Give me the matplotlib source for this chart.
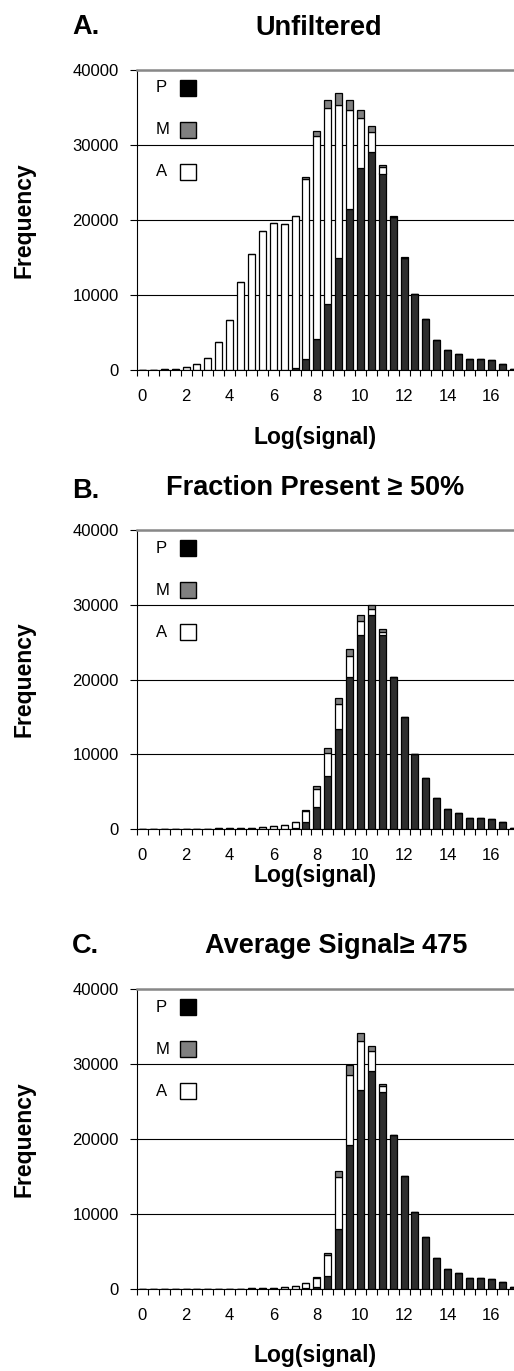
import matplotlib
matplotlib.use('Agg')
import matplotlib.pyplot as plt
from matplotlib.patches import Rectangle
import numpy as np

plt.rcParams['font.family'] = ['Liberation Sans', 'DejaVu Sans']

# ---------------- data ----------------
log_signal = [0.0, 0.5, 1.0, 1.5, 2.0, 2.5, 3.0, 3.5, 4.0, 4.5, 5.0, 5.5, 6.0, 6.5,
              7.0, 7.5, 8.0, 8.5, 9.0, 9.5, 10.0, 10.5, 11.0, 11.5, 12.0, 12.5,
              13.0, 13.5, 14.0, 14.5, 15.0, 15.5, 16.0, 16.5, 17.0]

# Panel A: Unfiltered
a_present = [0, 0, 0, 0, 50, 0, 0, 0, 0, 0, 0, 0, 0, 0, 300, 1500, 4200, 8800, 15000,
             21500, 26900, 29100, 26200, 20400, 15000, 10200, 6800, 4000, 2700, 2100,
             1500, 1500, 1300, 850, 200]
a_marginal = [0, 0, 0, 0, 0, 0, 0, 0, 0, 0, 0, 0, 0, 0, 0, 300, 700, 1100, 1500, 1300,
              1100, 750, 300, 150, 100, 0, 0, 0, 0, 0, 0, 0, 0, 0, 0]
a_absent = [0, 50, 100, 200, 300, 850, 1650, 3700, 6700, 11700, 15500, 18600, 19600,
            19500, 20300, 24000, 27000, 26100, 20400, 13200, 6700, 2650, 900, 50, 0,
            0, 0, 0, 0, 0, 0, 0, 0, 0, 0]

# Panel B: Fraction Present >= 50%
b_present = [0, 0, 0, 0, 0, 0, 0, 0, 0, 0, 0, 0, 0, 0, 100, 900, 3000, 7050, 13400,
             20300, 25900, 28600, 26000, 20300, 15000, 10100, 6800, 4100, 2700, 2100,
             1500, 1500, 1300, 900, 200]
b_marginal = [0, 0, 0, 0, 0, 0, 0, 0, 0, 0, 0, 0, 0, 0, 0, 200, 350, 600, 800, 1000,
              800, 600, 400, 100, 0, 0, 0, 0, 0, 0, 0, 0, 0, 0, 0]
b_absent = [0, 0, 0, 0, 0, 0, 0, 80, 100, 130, 200, 300, 450, 600, 900, 1500, 2350,
            3150, 3300, 2800, 1900, 800, 300, 0, 0, 0, 0, 0, 0, 0, 0, 0, 0, 0, 0]

# Panel C: Average Signal >= 475
c_present = [0, 0, 0, 0, 0, 0, 0, 0, 0, 0, 0, 0, 0, 0, 0, 100, 250, 1800, 7950, 19200,
             26600, 29100, 26300, 20600, 15100, 10300, 6900, 4100, 2700, 2150, 1500,
             1500, 1300, 870, 300]
c_marginal = [0, 0, 0, 0, 0, 0, 0, 0, 0, 0, 0, 0, 0, 0, 0, 0, 100, 200, 700, 1350,
              1000, 650, 300, 0, 0, 0, 0, 0, 0, 0, 0, 0, 0, 0, 0]
c_absent = [0, 0, 0, 0, 0, 0, 0, 0, 30, 50, 80, 120, 180, 280, 450, 650, 1250, 2800,
            7050, 9350, 6500, 2650, 800, 0, 0, 0, 0, 0, 0, 0, 0, 0, 0, 0, 0]

x_tick_values = [0, 2, 4, 6, 8, 10, 12, 14, 16]
x_tick_labels = ['0', '2', '4', '6', '8', '10', '12', '14', '16']
y_tick_values = [0, 10000, 20000, 30000, 40000]
y_tick_labels = ['0', '10000', '20000', '30000', '40000']
legend_labels = ['P', 'M', 'A']
panel_letters = ['A.', 'B.', 'C.']
panel_titles = ['Unfiltered', 'Fraction Present \u2265 50%', 'Average Signal\u2265 475']
x_label = 'Log(signal)'
y_label = 'Frequency'

# ---------------- layout ----------------
W, H = 514, 1371
fig = plt.figure(figsize=(W / 100, H / 100), dpi=100)


def fx(x):
    return x / W


def fy(y):
    return 1 - y / H


panels = [
    dict(P=a_present, M=a_marginal, A=a_absent, top=70, bottom=370,
         letter_base=34, title_x=319, title_base=35, xlabel_base=444),
    dict(P=b_present, M=b_marginal, A=b_absent, top=530, bottom=829,
         letter_base=498, title_x=315, title_base=495, xlabel_base=882),
    dict(P=c_present, M=c_marginal, A=c_absent, top=989, bottom=1289,
         letter_base=953, title_x=336, title_base=953, xlabel_base=1362),
]

ax_left_px = 137
ax_width_px = 381.5
col_P = '#2e2e2e'
col_M = '#808080'
col_A = 'white'
edge_lw = 0.9
bar_w = 0.32

for k, p in enumerate(panels):
    ax = fig.add_axes([fx(ax_left_px), fy(p['bottom']), ax_width_px / W,
                       (p['bottom'] - p['top']) / H])
    x = np.array(log_signal)
    P = np.array(p['P'], dtype=float)
    A = np.array(p['A'], dtype=float)
    M = np.array(p['M'], dtype=float)
    ax.bar(x, P, width=bar_w, color=col_P, edgecolor='black', linewidth=edge_lw, zorder=2)
    ax.bar(x, A, bottom=P, width=bar_w, color=col_A, edgecolor='black', linewidth=edge_lw, zorder=2)
    ax.bar(x, M, bottom=P + A, width=bar_w, color=col_M, edgecolor='black', linewidth=edge_lw, zorder=2)

    ax.set_xlim(-0.25, 17.25)
    ax.set_ylim(0, 40000)
    ax.set_axisbelow(True)
    ax.yaxis.grid(True, color='black', linewidth=0.8)

    ax.set_yticks(y_tick_values)
    ax.set_yticklabels(y_tick_labels, fontsize=12)
    ax.tick_params(axis='y', which='major', length=5, width=0.8, direction='out',
                   pad=8, color='black')

    ax.set_xticks(x_tick_values)
    ax.set_xticklabels(x_tick_labels, fontsize=12)
    ax.tick_params(axis='x', which='major', length=0, pad=14)
    ax.set_xticks(np.arange(-0.25, 17.3, 0.5), minor=True)
    ax.tick_params(axis='x', which='minor', length=4, width=0.8, direction='out',
                   color='black')

    for s in ['left', 'bottom']:
        ax.spines[s].set_color('black')
        ax.spines[s].set_linewidth(0.8)
    ax.spines['right'].set_visible(False)
    ax.spines['top'].set_color('#888888')
    ax.spines['top'].set_linewidth(1.8)

    # legend (manual, matching original layout)
    ph = p['bottom'] - p['top']
    face = ['black', col_M, col_A]
    for j, lab in enumerate(legend_labels):
        yc = 1 - (18 + 42 * j) / ph
        ax.text((156 - ax_left_px) / ax_width_px, yc, lab, transform=ax.transAxes,
                fontsize=12, ha='left', va='center')
        ax.add_patch(Rectangle(((180 - ax_left_px) / ax_width_px, yc - 8 / ph),
                               16 / ax_width_px, 16 / ph, transform=ax.transAxes,
                               facecolor=face[j], edgecolor='black', linewidth=1.0,
                               zorder=5))

    # texts
    fig.text(fx(72), fy(p['letter_base']), panel_letters[k], fontsize=19.5,
             fontweight='bold', ha='left', va='baseline')
    fig.text(fx(p['title_x']), fy(p['title_base']), panel_titles[k], fontsize=19.5,
             fontweight='bold', ha='center', va='baseline')
    fig.text(fx(315), fy(p['xlabel_base']), x_label, fontsize=16.5,
             fontweight='bold', ha='center', va='baseline')
    fig.text(fx(24), fy((p['top'] + p['bottom']) / 2), y_label, fontsize=16.5,
             fontweight='bold', ha='center', va='center', rotation=90)

fig.savefig('out.png', dpi=100)
